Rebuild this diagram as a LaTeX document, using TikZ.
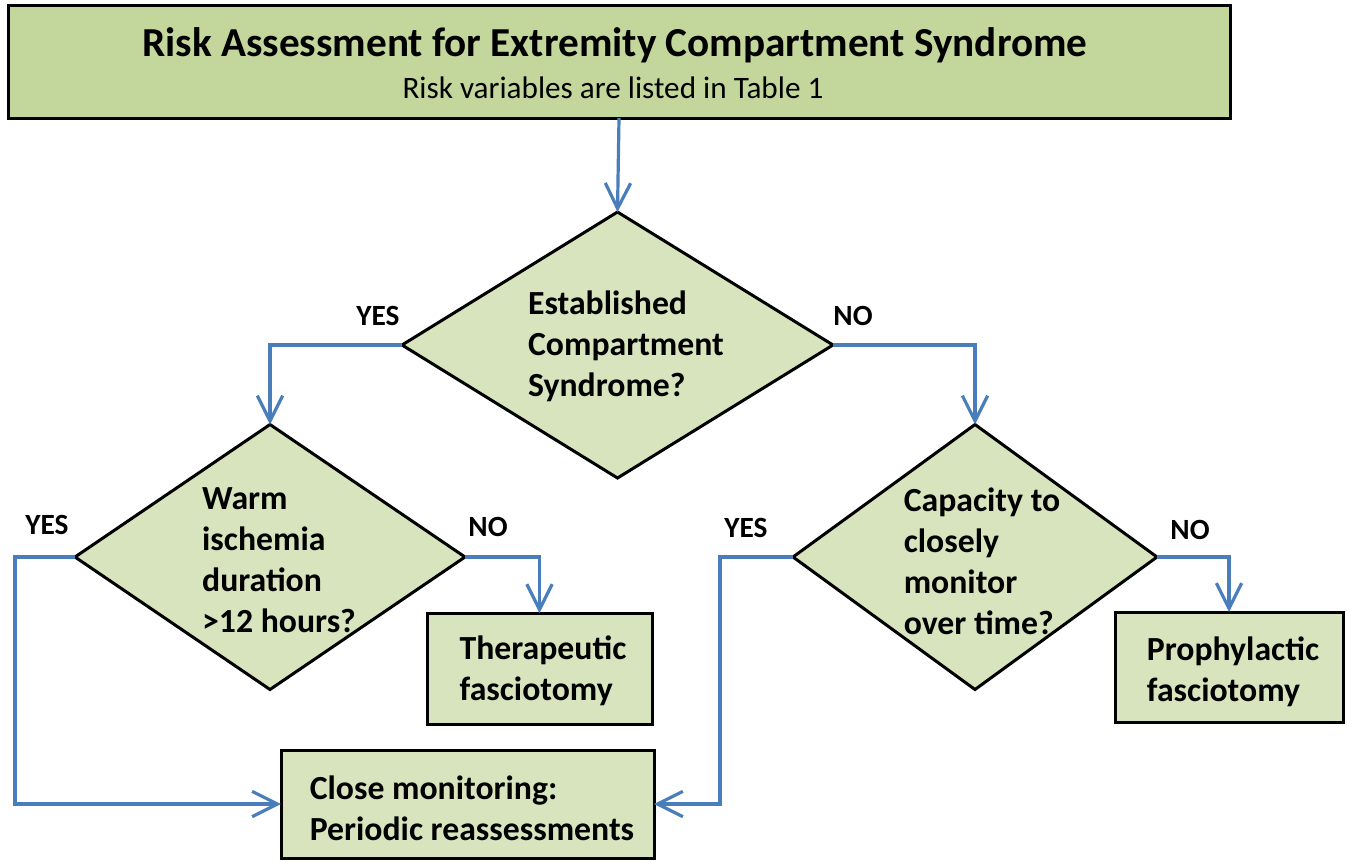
\documentclass[tikz,border=0pt]{standalone}
\usepackage{fontspec}
\setmainfont{Carlito}
\usetikzlibrary{shapes.geometric,arrows.meta}
\definecolor{titlefill}{HTML}{C3D69B}
\definecolor{boxfill}{HTML}{D7E4BD}
\definecolor{conncol}{HTML}{4A7EBB}
\begin{document}
\begin{tikzpicture}[x=0.75pt,y=-0.75pt,
  box/.style={draw=black,line width=2.25pt,fill=boxfill,rectangle,inner sep=0pt,outer sep=0pt},
  dia/.style={draw=black,line width=2.25pt,fill=boxfill,diamond,inner sep=0pt,outer sep=0pt},
  txt/.style={align=left,inner sep=0pt,font=\fontsize{25.3}{30.75}\selectfont\bfseries},
  lbl/.style={inner sep=0pt,font=\fontsize{22}{26}\selectfont\bfseries},
  conn/.style={draw=conncol,line width=2.4pt,-{Straight Barb[length=19pt,width=19pt,line width=2.4pt]}}]
\useasboundingbox (0,0) rectangle (1347,861);
% boxes
\node[box,fill=titlefill,minimum width=916.5pt,minimum height=84.75pt] (title) at (619,61.5) {};
\node[inner sep=0pt,font=\fontsize{30.9}{34}\selectfont\bfseries] (tt) at (615,45) {Risk Assessment for Extremity Compartment Syndrome};
\node[inner sep=0pt,font=\fontsize{23.4}{27}\selectfont] (ts) at (613,88) {Risk variables are listed in Table 1};
\node[dia,minimum width=323.25pt,minimum height=199.5pt] (d1) at (617.5,345) {};
\node[dia,minimum width=292.5pt,minimum height=198.75pt] (d2) at (270,557) {};
\node[dia,minimum width=273pt,minimum height=198.75pt] (d3) at (975,557) {};
\node[box,minimum width=168.75pt,minimum height=83.25pt] (ther) at (539.5,668.5) {};
\node[box,minimum width=171pt,minimum height=82.5pt] (proph) at (1229,667) {};
\node[box,minimum width=279.75pt,minimum height=81pt] (close) at (467.5,804) {};
% texts
\node[txt] (t1) at (626,346) {Established\\Compartment\\Syndrome?};
\node[txt] (t2) at (279,560) {Warm\\ischemia\\duration\\>12 hours?};
\node[txt] (t3) at (982,561) {Capacity to\\closely\\monitor\\over time?};
\node[txt] (t4) at (543,671) {Therapeutic\\fasciotomy};
\node[txt] (t5) at (1233,672) {Prophylactic\\fasciotomy};
\node[txt] (t6) at (472,808) {Close monitoring:\\Periodic reassessments};
% labels
\node[lbl] (y1) at (378,316) {YES};
\node[lbl] (n1) at (853,316) {NO};
\node[lbl] (y2) at (47,525) {YES};
\node[lbl] (n2) at (488,527) {NO};
\node[lbl] (y3) at (746,528) {YES};
\node[lbl] (n3) at (1190,530) {NO};
% connectors
\coordinate (c2) at (15,557);
\coordinate (c3) at (720,557);
\draw[conn] (title.south) -- (d1.north);
\draw[conn] (d1.west) -| (d2.north);
\draw[conn] (d1.east) -| (d3.north);
\draw[conn] (d2.west) -- (c2) |- (close.west);
\draw[conn] (d2.east) -| (ther.north);
\draw[conn] (d3.west) -- (c3) |- (close.east);
\draw[conn] (d3.east) -| (proph.north);
\end{tikzpicture}
\end{document}
